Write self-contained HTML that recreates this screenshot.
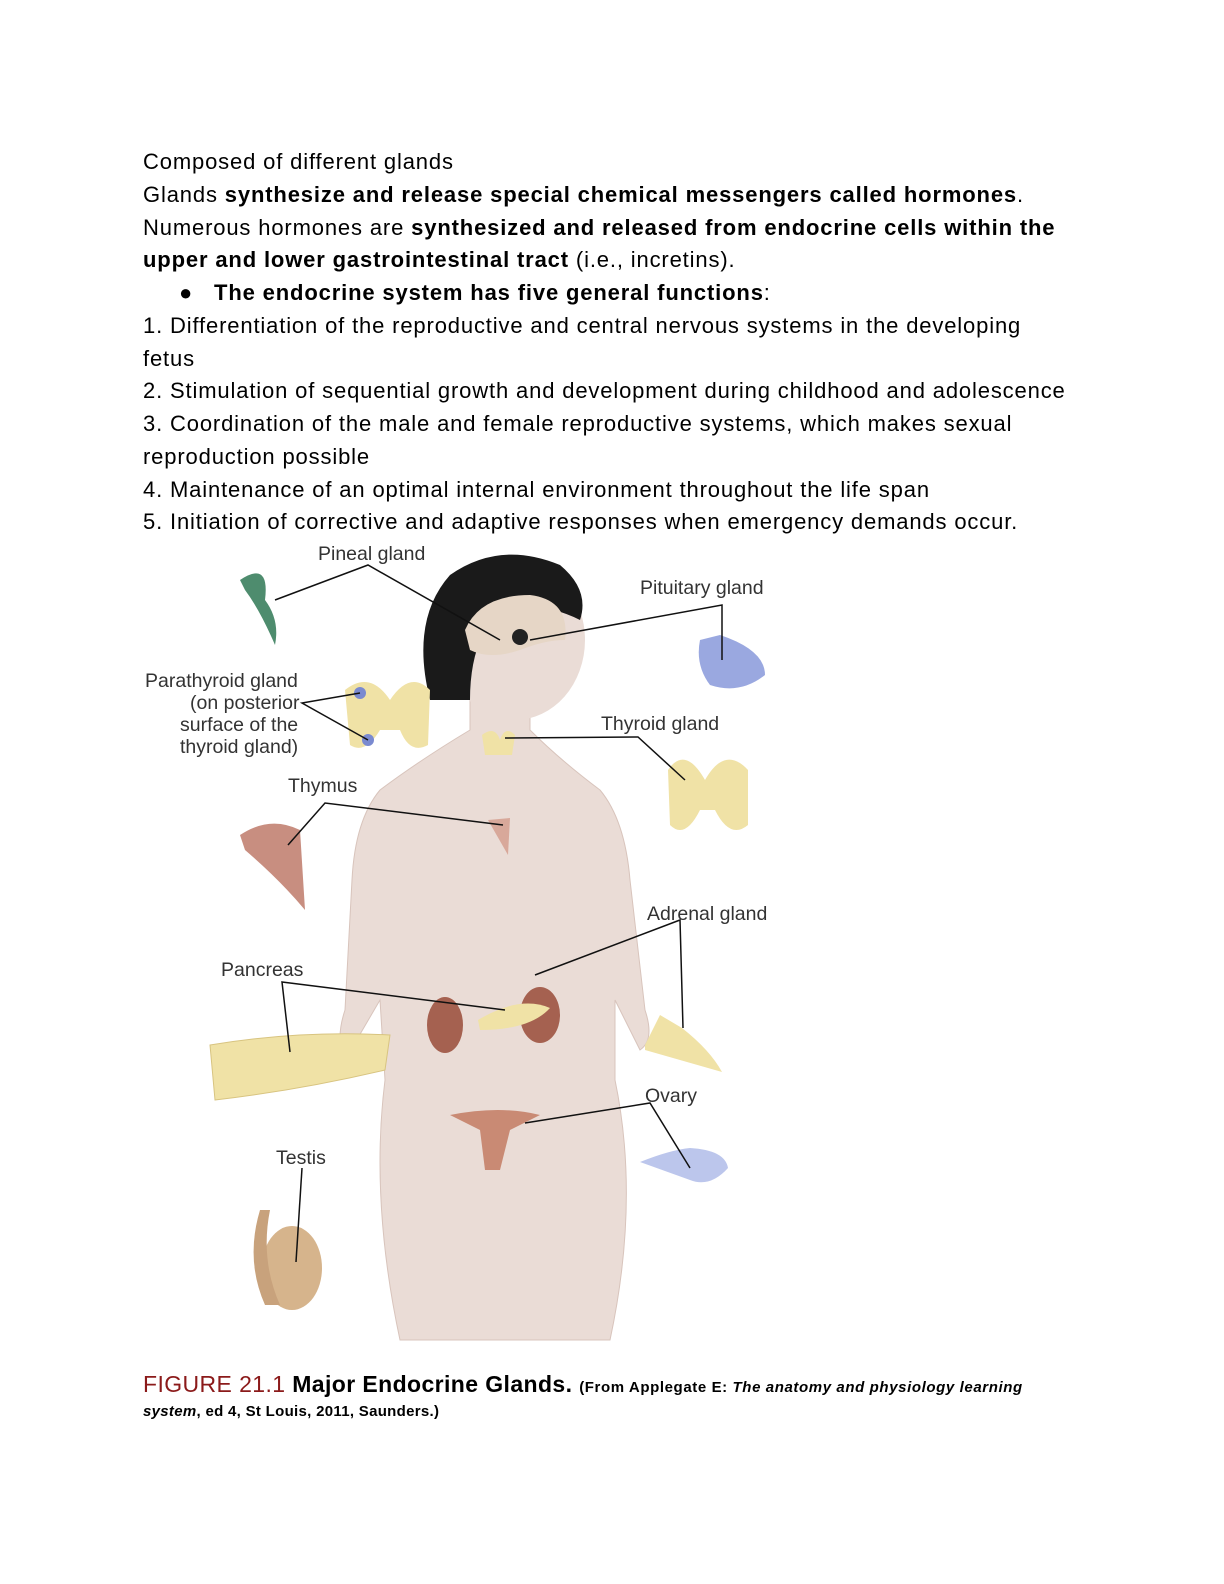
<!DOCTYPE html>
<html><head><meta charset="utf-8"><style>
body{margin:0;background:#fff;width:1224px;height:1584px;position:relative;overflow:hidden;font-family:"Liberation Sans",Arial,sans-serif;color:#000}
.t{position:absolute;left:143px;font-size:22px;line-height:32.75px;top:146px;width:1000px;letter-spacing:0.85px}
.t p{margin:0;white-space:nowrap}
.cap{position:absolute;left:143px;font-size:23px;letter-spacing:0.4px;white-space:nowrap}
.cap2{position:absolute;left:143px;font-size:15px;font-weight:bold;letter-spacing:0.3px}
svg{position:absolute;left:0;top:0}
svg text{font-family:"Liberation Sans",Arial,sans-serif;font-size:19.5px;fill:#333}
</style></head><body>
<div class="t">
<p>Composed of different glands</p>
<p>Glands <b>synthesize and release special chemical messengers called hormones</b>.</p>
<p>Numerous hormones are <b>synthesized and released from endocrine cells within the</b></p>
<p><b>upper and lower gastrointestinal tract</b> (i.e., incretins).</p>
<p style="padding-left:36px">●&nbsp;&nbsp;&nbsp;<b>The endocrine system has five general functions</b>:</p>
<p>1. Differentiation of the reproductive and central nervous systems in the developing</p>
<p>fetus</p>
<p>2. Stimulation of sequential growth and development during childhood and adolescence</p>
<p>3. Coordination of the male and female reproductive systems, which makes sexual</p>
<p>reproduction possible</p>
<p>4. Maintenance of an optimal internal environment throughout the life span</p>
<p>5. Initiation of corrective and adaptive responses when emergency demands occur.</p>
</div>
<svg width="1224" height="1584" viewBox="0 0 1224 1584">
<path d="M470 690 L470 730 Q420 760 380 790 Q355 820 352 880 L345 1010 Q335 1040 345 1060 L380 1000 L385 1080 Q370 1200 400 1340 L610 1340 Q640 1200 615 1080 L615 1000 L640 1050 Q655 1040 645 1010 L630 880 Q625 820 600 790 Q560 760 530 730 L530 690 Z" fill="#eadcd6" stroke="#d8c4bc"/>
<ellipse cx="515" cy="640" rx="70" ry="80" fill="#eadcd6"/>
<path d="M430 700 Q410 620 450 575 Q500 540 560 565 Q590 590 580 620 Q540 600 500 610 Q470 640 470 700 Z" fill="#1a1a1a"/>
<path d="M465 630 Q480 595 530 595 Q570 600 565 640 Q545 640 520 650 Q490 660 470 650 Z" fill="#e6d6c6"/>
<circle cx="520" cy="637" r="8" fill="#222"/>
<path d="M482 735 Q495 725 500 740 Q505 725 515 735 L512 755 L485 755 Z" fill="#f0e2a6"/>
<path d="M488 820 L510 818 L508 855 Z" fill="#d8a89a"/>
<ellipse cx="445" cy="1025" rx="18" ry="28" fill="#a56150"/>
<ellipse cx="540" cy="1015" rx="20" ry="28" fill="#a56150"/>
<path d="M478 1020 Q520 995 550 1008 Q530 1030 480 1030 Z" fill="#f0e2a6"/>
<path d="M450 1115 Q500 1105 540 1115 L510 1130 L500 1170 L485 1170 L480 1130 Z" fill="#c98a74"/>
<path d="M240 580 Q270 560 265 600 Q280 620 275 645 Q260 610 245 590 Z" fill="#4e8c6e"/>
<path d="M700 640 L720 635 Q765 650 765 675 Q740 695 710 685 Q695 665 700 640 Z" fill="#9aa8e0"/>
<path d="M345 690 Q370 670 390 700 Q410 670 430 690 L428 745 Q410 755 400 730 L380 730 Q365 755 350 745 Z" fill="#f0e2a6"/>
<circle cx="360" cy="693" r="6" fill="#7a8ad0"/><circle cx="368" cy="740" r="6" fill="#7a8ad0"/>
<path d="M668 770 Q685 745 705 780 Q725 745 748 770 L748 825 Q730 840 715 810 L700 810 Q685 840 670 825 Z" fill="#f0e2a6"/>
<path d="M240 835 Q270 815 300 830 L305 910 Q280 880 245 850 Z" fill="#c88e80"/>
<path d="M210 1045 Q300 1030 390 1035 L385 1070 Q300 1090 215 1100 Z" fill="#f0e2a6" stroke="#d8c480"/>
<path d="M645 1045 L660 1015 L682 1028 Q710 1050 722 1072 Q680 1060 645 1050 Z" fill="#f0e2a6"/>
<path d="M640 1162 Q670 1150 690 1148 Q725 1150 728 1168 Q710 1188 690 1180 Z" fill="#bcc6ec"/>
<ellipse cx="292" cy="1268" rx="30" ry="42" fill="#d6b48c"/>
<path d="M260 1210 Q245 1260 265 1305 L280 1305 Q260 1260 270 1210 Z" fill="#c8a27c"/>
<g stroke="#111" stroke-width="1.5" fill="none">
<polyline points="275,600 368,565 500,640"/>
<polyline points="530,640 722,605 722,660"/>
<polyline points="360,693 302,703 368,740"/>
<polyline points="505,738 638,737 685,780"/>
<polyline points="288,845 325,803 503,825"/>
<polyline points="290,1052 282,982 505,1010"/>
<polyline points="535,975 680,920 683,1028"/>
<polyline points="525,1123 650,1103 690,1168"/>
<line x1="302" y1="1168" x2="296" y2="1262"/>
</g>
<g transform="translate(0,6)">
<text x="318" y="554">Pineal gland</text>
<text x="640" y="588">Pituitary gland</text>
<text x="145" y="681">Parathyroid gland</text>
<text x="190" y="703">(on posterior</text>
<text x="180" y="725">surface of the</text>
<text x="180" y="747">thyroid gland)</text>
<text x="601" y="724">Thyroid gland</text>
<text x="288" y="786">Thymus</text>
<text x="647" y="914">Adrenal gland</text>
<text x="221" y="970">Pancreas</text>
<text x="645" y="1096">Ovary</text>
<text x="276" y="1158">Testis</text>
</g>
</svg>
<div class="cap" style="top:1371px"><span style="color:#8b1a1a">FIGURE 21.1</span> <b>Major Endocrine Glands.</b> <span style="font-size:15px;font-weight:bold;letter-spacing:0.6px">(From Applegate E: <i>The anatomy and physiology learning</i></span></div>
<div class="cap2" style="top:1403px"><i>system</i>, ed 4, St Louis, 2011, Saunders.)</div>
</body></html>
